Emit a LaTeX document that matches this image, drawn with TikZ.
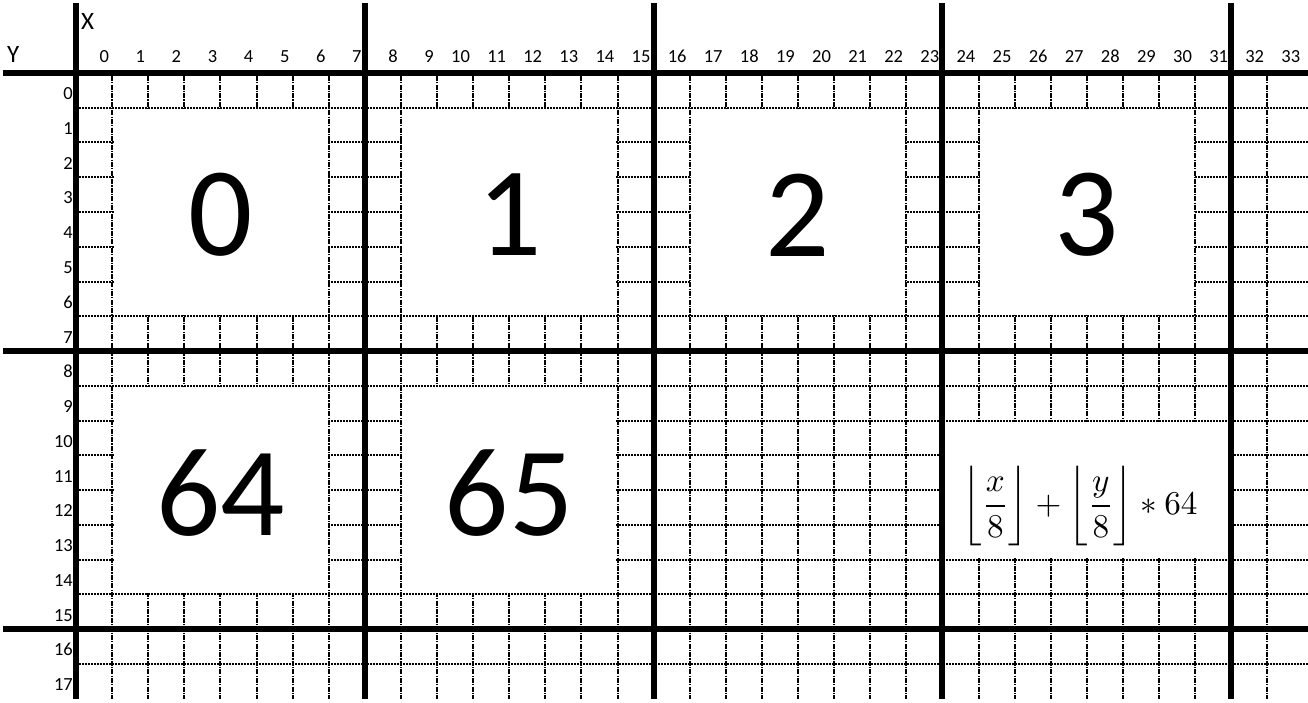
\documentclass[tikz,border=0pt]{standalone}
\usepackage{amsmath}
\usepackage{fontspec}
\setmainfont{Carlito}
\usepackage{tikz}
\usetikzlibrary{positioning}
\newcommand\colw{36.1}
\newcommand\rowh{34.75}

\begin{document}
\begin{tikzpicture}[
  x=1pt,y=-1pt,
  hgrid/.style={line width=2pt,dash pattern=on 2pt off 1pt},
  vgrid/.style={line width=2pt,dash pattern=on 5pt off 1.2pt on 1.2pt off 1.2pt},
  bigline/.style={line width=6pt},
  blank/.style={fill=white},
  collabel/.style={anchor=base east,inner sep=0pt,font=\fontsize{18.5}{20}\selectfont},
  rowlabel/.style={anchor=base east,inner sep=0pt,font=\fontsize{18.5}{20}\selectfont},
  axislabel/.style={anchor=base west,inner sep=0pt,font=\fontsize{25}{27}\selectfont},
  bignum/.style={inner sep=0pt,font=\fontsize{127}{127}\selectfont}
]
\useasboundingbox (0,0) rectangle (1308,703);

% dotted cells
\foreach \j in {1,...,17}
  \draw[hgrid] (79,{73+\j*\rowh}) -- (1308,{73+\j*\rowh});
\foreach \k in {1,...,33}
  \draw[vgrid] ({76+\k*\colw},76) -- ({76+\k*\colw},698.5);

% empty inner areas
\foreach \bx/\by in {0/0,1/0,2/0,3/0,0/1,1/1}
  \fill[blank] ({76+(8*\bx+1)*\colw+1.5},{73+(8*\by+1)*\rowh+1.5})
    rectangle ({76+(8*\bx+7)*\colw-1.5},{73+(8*\by+7)*\rowh-1.5});
\fill[blank] ({76+24*\colw+3},{73+10*\rowh+1.5})
  rectangle ({76+32*\colw-3},{73+14*\rowh-1.5});

% block borders
\foreach \k in {0,8,16,24,32}
  \draw[bigline] ({76+\k*\colw},3) -- ({76+\k*\colw},698.5);
\foreach \j in {0,8,16}
  \draw[bigline] (3,{73+\j*\rowh}) -- (1308,{73+\j*\rowh});

% axes
\node[axislabel] (xlab) at (81,30) {X};
\node[axislabel] (ylab) at (7,63) {Y};
\foreach \k in {0,...,33}
  \node[collabel] (col\k) at ({76+(\k+1)*\colw-3},63) {\k};
\foreach \j in {0,...,17}
  \node[rowlabel] (row\j) at (73,{73+(\j+1)*\rowh-8}) {\j};

% block numbers
\foreach \bx/\by/\n in {0/0/0,1/0/1,2/0/2,3/0/3,0/1/64,1/1/65}
  \node[bignum] (blk\n) at ({76+(8*\bx+4)*\colw},{73+(8*\by+4)*\rowh+3}) {\n};
\node[inner sep=0pt] (formula) at (1080,506)
  {\resizebox{235pt}{!}{$\biggl\lfloor\dfrac{x}{8}\biggr\rfloor+\biggl\lfloor\dfrac{y}{8}\biggr\rfloor*64$}};
\end{tikzpicture}
\end{document}
